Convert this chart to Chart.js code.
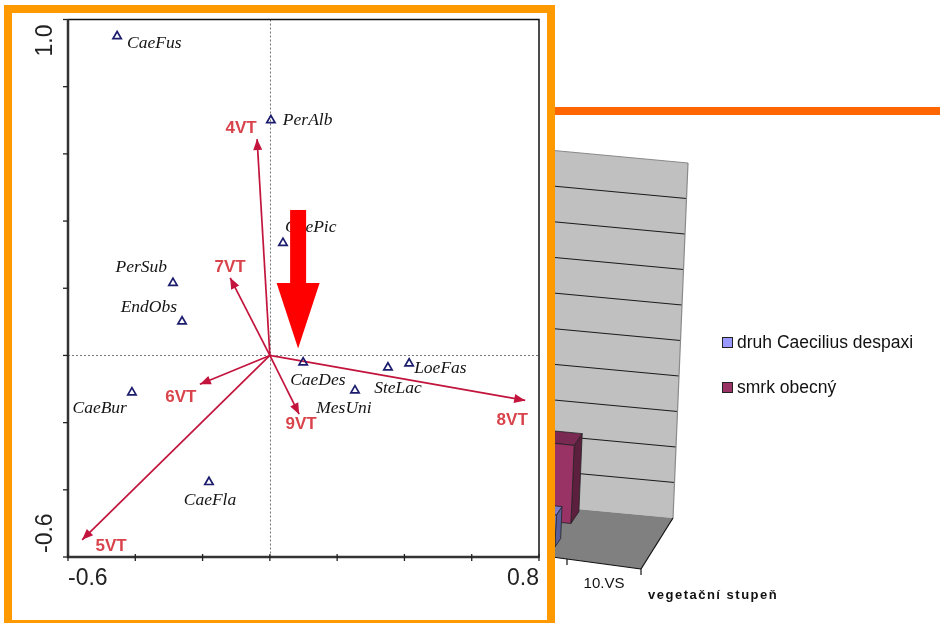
<!DOCTYPE html>
<html><head><meta charset="utf-8">
<script src="https://cdn.jsdelivr.net/npm/chart.js@4.4.1/dist/chart.umd.min.js"></script>
<style>
html,body{margin:0;padding:0;background:#fff;}
#page{position:relative;width:940px;height:623px;overflow:hidden;background:#fff;font-family:'Liberation Sans',Arial,sans-serif;}
#bg{position:absolute;left:0;top:0;z-index:0;}
#bar{position:absolute;left:555px;top:107px;width:385px;height:8px;background:#FF6600;z-index:1;}
#frame{position:absolute;left:4px;top:5px;width:535px;height:607px;border:8px solid #FF9900;background:#fff;z-index:5;}
#ord{position:absolute;left:0;top:0;}
.legsq{position:absolute;width:9px;height:9px;border:1px solid #222;z-index:2;}
.legtx{position:absolute;font-size:17.5px;line-height:20px;color:#111;white-space:nowrap;z-index:2;}
#xtitle{position:absolute;left:648px;top:586px;font-size:13px;font-weight:bold;letter-spacing:1.5px;line-height:18px;color:#111;white-space:nowrap;z-index:2;}
</style></head>
<body><div id="page">
<canvas id="bg" width="940" height="623"></canvas>
<div id="bar"></div>
<div id="legend"></div>
<div id="xtitle">vegetační stupeň</div>
<div id="frame"><canvas id="ord" width="535" height="607"></canvas></div>
</div>
<script>
// ---------- ordination biplot data ----------
const speciesNames = ['CaeFus','PerAlb','CaePic','PerSub','EndObs','CaeBur','CaeFla','CaeDes','MesUni','SteLac','LoeFas'];
const speciesX = [-0.454, 0.003, 0.039, -0.288, -0.261, -0.410, -0.181, 0.099, 0.253, 0.351, 0.414];
const speciesY = [0.950, 0.700, 0.335, 0.216, 0.101, -0.110, -0.377, -0.021, -0.104, -0.036, -0.024];
const envNames = ['4VT','7VT','6VT','5VT','9VT','8VT'];
const envX = [-0.038, -0.118, -0.208, -0.558, 0.087, 0.759];
const envY = [0.644, 0.231, -0.086, -0.549, -0.175, -0.134];
const xTicks = [-0.6, -0.4, -0.2, 0, 0.2, 0.4, 0.6, 0.8];
const yTicks = [-0.6, -0.4, -0.2, 0, 0.2, 0.4, 0.6, 0.8, 1.0];
const xTickLabels = ['-0.6', '', '', '', '', '', '', '0.8'];
const yTickLabels = ['-0.6', '', '', '', '', '', '', '', '1.0'];
const highlightArrowX = [0.084];
const highlightArrowY = [0.433, 0.216, 0.021]; // shaft top, head base, tip

// ---------- background 3D bar chart data ----------
const vsCategories = ['9.VS', '10.VS'];
const seriesNames = ['druh Caecilius despaxi', 'smrk obecný'];
const caeciliusValues = [0.9, null];
const smrkValues = [2.2, null];
const valueTicks = [0, 1, 2, 3, 4, 5, 6, 7, 8, 9, 10];

// ---------- styles / label placement ----------
const speciesLabelPos = {CaeFus:[10,7,'left'], PerAlb:[12,0,'left'], CaePic:[2,-15,'left'], PerSub:[-6,-15,'right'],
  EndObs:[-5,-14,'right'], CaeBur:[-5,16,'right'], CaeFla:[1,18,'center'], CaeDes:[-13,18,'left'],
  MesUni:[-11,18,'center'], SteLac:[10,21,'center'], LoeFas:[5,5,'left']};
const envLabelPos = {'4VT':[-16,-11], '7VT':[0,-11], '6VT':[-19,13], '5VT':[29,6], '9VT':[2,10], '8VT':[-13,20]};
const ARROW_COL = '#C2143C', ENV_TXT = '#D9434B', SP_COL = '#1c1c6e';
const barColors = [{front:'#9999FF', side:'#5A5F9A', top:'#7C7CCC'}, {front:'#993366', side:'#5C1F3D', top:'#7A2952'}];

// ---------- ordination chart ----------
const ordPlugin = {
  id: 'ordDeco',
  beforeDatasetsDraw(chart) {
    const {ctx, chartArea: a, scales: {x, y}} = chart;
    ctx.save();
    ctx.strokeStyle = '#777'; ctx.lineWidth = 1; ctx.setLineDash([2, 2]);
    const x0 = Math.round(x.getPixelForValue(0)) + 0.5, y0 = Math.round(y.getPixelForValue(0)) + 0.5;
    ctx.beginPath(); ctx.moveTo(x0, a.top); ctx.lineTo(x0, a.bottom); ctx.stroke();
    ctx.beginPath(); ctx.moveTo(a.left, y0); ctx.lineTo(a.right, y0); ctx.stroke();
    ctx.setLineDash([]);
    ctx.strokeStyle = '#111'; ctx.lineWidth = 1.5;
    ctx.beginPath(); ctx.moveTo(a.left, a.top); ctx.lineTo(a.right, a.top); ctx.lineTo(a.right, a.bottom); ctx.stroke();
    ctx.strokeStyle = '#333'; ctx.lineWidth = 2.5;
    ctx.beginPath(); ctx.moveTo(a.left, a.top - 0.5); ctx.lineTo(a.left, a.bottom); ctx.lineTo(a.right + 0.5, a.bottom); ctx.stroke();
    ctx.lineWidth = 1.3; ctx.strokeStyle = '#222';
    xTicks.forEach(v => { const px = x.getPixelForValue(v); ctx.beginPath(); ctx.moveTo(px, a.bottom - 3); ctx.lineTo(px, a.bottom + 4); ctx.stroke(); });
    yTicks.forEach(v => { const py = y.getPixelForValue(v); ctx.beginPath(); ctx.moveTo(a.left - 5, py); ctx.lineTo(a.left, py); ctx.stroke(); });
    ctx.fillStyle = '#222'; ctx.font = '23px "Liberation Sans", Arial, sans-serif'; ctx.textBaseline = 'middle';
    xTicks.forEach((v, i) => {
      const t = xTickLabels[i]; if (!t) return;
      ctx.textAlign = i === 0 ? 'left' : (i === xTicks.length - 1 ? 'right' : 'center');
      ctx.fillText(t, x.getPixelForValue(v), a.bottom + 22);
    });
    yTicks.forEach((v, i) => {
      const t = yTickLabels[i]; if (!t) return;
      const py = y.getPixelForValue(v);
      ctx.save(); ctx.translate(a.left - 22, i === 0 ? py - 4 : py + 5); ctx.rotate(-Math.PI / 2);
      ctx.textAlign = i === 0 ? 'left' : 'right';
      ctx.fillText(t, 0, 0); ctx.restore();
    });
    ctx.restore();
  },
  afterDatasetsDraw(chart) {
    const {ctx, scales: {x, y}} = chart;
    ctx.save();
    const ox = x.getPixelForValue(0), oy = y.getPixelForValue(0);
    envNames.forEach((n, i) => {
      const tx = x.getPixelForValue(envX[i]), ty = y.getPixelForValue(envY[i]);
      const ang = Math.atan2(ty - oy, tx - ox), L = 11, W = 4.5;
      ctx.fillStyle = ARROW_COL; ctx.beginPath();
      ctx.moveTo(tx, ty);
      ctx.lineTo(tx - L * Math.cos(ang) + W * Math.sin(ang), ty - L * Math.sin(ang) - W * Math.cos(ang));
      ctx.lineTo(tx - L * Math.cos(ang) - W * Math.sin(ang), ty - L * Math.sin(ang) + W * Math.cos(ang));
      ctx.closePath(); ctx.fill();
      const p = envLabelPos[n];
      ctx.fillStyle = ENV_TXT; ctx.font = 'bold 17px "Liberation Sans", Arial, sans-serif';
      ctx.textAlign = 'center'; ctx.textBaseline = 'middle';
      ctx.fillText(n, tx + p[0], ty + p[1]);
    });
    ctx.fillStyle = '#151515'; ctx.font = 'italic 17.5px "Liberation Serif", "Times New Roman", serif'; ctx.textBaseline = 'middle';
    speciesNames.forEach((n, i) => {
      const p = speciesLabelPos[n];
      ctx.textAlign = p[2];
      ctx.fillText(n, x.getPixelForValue(speciesX[i]) + p[0], y.getPixelForValue(speciesY[i]) + p[1]);
    });
    const cx = x.getPixelForValue(highlightArrowX[0]);
    const yTop = y.getPixelForValue(highlightArrowY[0]), yBase = y.getPixelForValue(highlightArrowY[1]), yTip = y.getPixelForValue(highlightArrowY[2]);
    ctx.fillStyle = '#FF0000';
    ctx.fillRect(cx - 8, yTop, 16, yBase - yTop + 1);
    ctx.beginPath(); ctx.moveTo(cx - 21.5, yBase); ctx.lineTo(cx + 21.5, yBase); ctx.lineTo(cx, yTip); ctx.closePath(); ctx.fill();
    ctx.restore();
  }
};

const envDatasets = envNames.map((n, i) => ({
  type: 'line', label: n, data: [{x: 0, y: 0}, {x: envX[i], y: envY[i]}],
  borderColor: ARROW_COL, borderWidth: 1.7, pointRadius: 0, fill: false, tension: 0
}));

new Chart(document.getElementById('ord'), {
  type: 'scatter',
  data: {datasets: [
    {label: 'species', data: speciesNames.map((n, i) => ({x: speciesX[i], y: speciesY[i]})),
     pointStyle: 'triangle', pointRadius: 4.8, pointBorderColor: SP_COL, pointBorderWidth: 1.7,
     pointBackgroundColor: 'rgba(255,255,255,0)'},
    ...envDatasets
  ]},
  options: {
    responsive: false, animation: false, devicePixelRatio: 1,
    layout: {padding: {left: 56, right: 8, top: 5, bottom: 63}},
    plugins: {legend: {display: false}, tooltip: {enabled: false}},
    scales: {
      x: {type: 'linear', display: false, min: -0.6, max: 0.8},
      y: {type: 'linear', display: false, min: -0.6, max: 1.0}
    }
  },
  plugins: [ordPlugin]
});

// ---------- background 3D bar chart ----------
const G = {fbr: [641, 569], uf: [74, 10], bbr: [673, 518], ub: [74, 6.9], H: [15, -355]};
const rows = [[0.2, 0.38], [0.7, 0.95]];
function P(d, w, f) {
  const fx = G.fbr[0] + d * G.uf[0], fy = G.fbr[1] + d * G.uf[1];
  const bx = G.bbr[0] + d * G.ub[0], by = G.bbr[1] + d * G.ub[1];
  return [fx + (bx - fx) * w + f * G.H[0], fy + (by - fy) * w + f * G.H[1]];
}
function poly(ctx, pts, fill, stroke, lw) {
  ctx.beginPath(); ctx.moveTo(pts[0][0], pts[0][1]);
  for (let i = 1; i < pts.length; i++) ctx.lineTo(pts[i][0], pts[i][1]);
  ctx.closePath();
  if (fill) { ctx.fillStyle = fill; ctx.fill(); }
  if (stroke) { ctx.strokeStyle = stroke; ctx.lineWidth = lw || 1; ctx.stroke(); }
}
function seg(ctx, a, b, col, lw) { ctx.beginPath(); ctx.moveTo(a[0], a[1]); ctx.lineTo(b[0], b[1]); ctx.strokeStyle = col; ctx.lineWidth = lw; ctx.stroke(); }

const bgPlugin = {
  id: 'bg3d',
  beforeDatasetsDraw(chart) {
    const {ctx, scales: {x, y}} = chart;
    const N = chart.data.labels.length;
    const dOf = i => (x.getPixelForValue(i) - x.left) / x.width * N - N;
    const frac = v => (y.bottom - y.getPixelForValue(v)) / (y.bottom - y.top);
    const d0 = -N - 3;
    ctx.save();
    poly(ctx, [P(d0, 1, 0), P(0, 1, 0), P(0, 1, 1), P(d0, 1, 1)], '#C0C0C0', null);
    valueTicks.forEach(v => {
      if (v === 0) return;
      const f = frac(v);
      seg(ctx, P(d0, 1, f), P(0, 1, f), v === valueTicks[valueTicks.length - 1] ? '#8a8a8a' : '#1a1a1a', 1.2);
    });
    seg(ctx, P(0, 1, 0), P(0, 1, 1), '#8a8a8a', 1.2);
    poly(ctx, [P(d0, 0, 0), P(0, 0, 0), P(0, 1, 0), P(d0, 1, 0)], '#808080', null);
    seg(ctx, P(d0, 0, 0), P(0, 0, 0), '#111', 1.2);
    seg(ctx, P(0, 0, 0), P(0, 1, 0), '#111', 1.2);
    for (let k = 0; k <= N; k++) { const p = P(-k, 0, 0); seg(ctx, p, [p[0], p[1] + 6], '#111', 1.2); }
    ctx.fillStyle = '#111'; ctx.font = '15px "Liberation Sans", Arial, sans-serif'; ctx.textAlign = 'center'; ctx.textBaseline = 'middle';
    chart.data.labels.forEach((lab, i) => { const p = P(dOf(i), 0, 0); ctx.fillText(lab, p[0], p[1] + 20); });
    [1, 0].forEach(s => {
      const ds = chart.data.datasets[s], c = barColors[s], [wf, wb] = rows[s];
      ds.data.forEach((v, i) => {
        if (v === null || v === undefined) return;
        const dc = dOf(i), dl = dc - 0.25, dr = dc + 0.25, f = frac(v);
        poly(ctx, [P(dr, wf, 0), P(dr, wb, 0), P(dr, wb, f), P(dr, wf, f)], c.side, '#222', 0.8);
        poly(ctx, [P(dl, wf, f), P(dr, wf, f), P(dr, wb, f), P(dl, wb, f)], c.top, '#222', 0.8);
        poly(ctx, [P(dl, wf, 0), P(dr, wf, 0), P(dr, wf, f), P(dl, wf, f)], c.front, '#222', 0.8);
      });
    });
    ctx.restore();
    return false;
  }
};

new Chart(document.getElementById('bg'), {
  type: 'bar',
  data: {labels: vsCategories, datasets: [
    {label: seriesNames[0], data: caeciliusValues, backgroundColor: barColors[0].front},
    {label: seriesNames[1], data: smrkValues, backgroundColor: barColors[1].front}
  ]},
  options: {
    responsive: false, animation: false, devicePixelRatio: 1,
    layout: {padding: {left: 450, right: 250, top: 160, bottom: 100}},
    plugins: {legend: {display: false}, tooltip: {enabled: false}},
    scales: {x: {display: false}, y: {display: false, min: valueTicks[0], max: valueTicks[valueTicks.length - 1]}}
  },
  plugins: [bgPlugin]
});

const legendTops = [337, 382];
const legEl = document.getElementById('legend');
seriesNames.forEach((n, i) => {
  const sq = document.createElement('div'); sq.className = 'legsq';
  sq.style.left = '722px'; sq.style.top = legendTops[i] + 'px'; sq.style.background = barColors[i].front;
  const tx = document.createElement('div'); tx.className = 'legtx';
  tx.style.left = '737px'; tx.style.top = (legendTops[i] - 5) + 'px'; tx.textContent = n;
  legEl.appendChild(sq); legEl.appendChild(tx);
});
</script>
</body></html>
